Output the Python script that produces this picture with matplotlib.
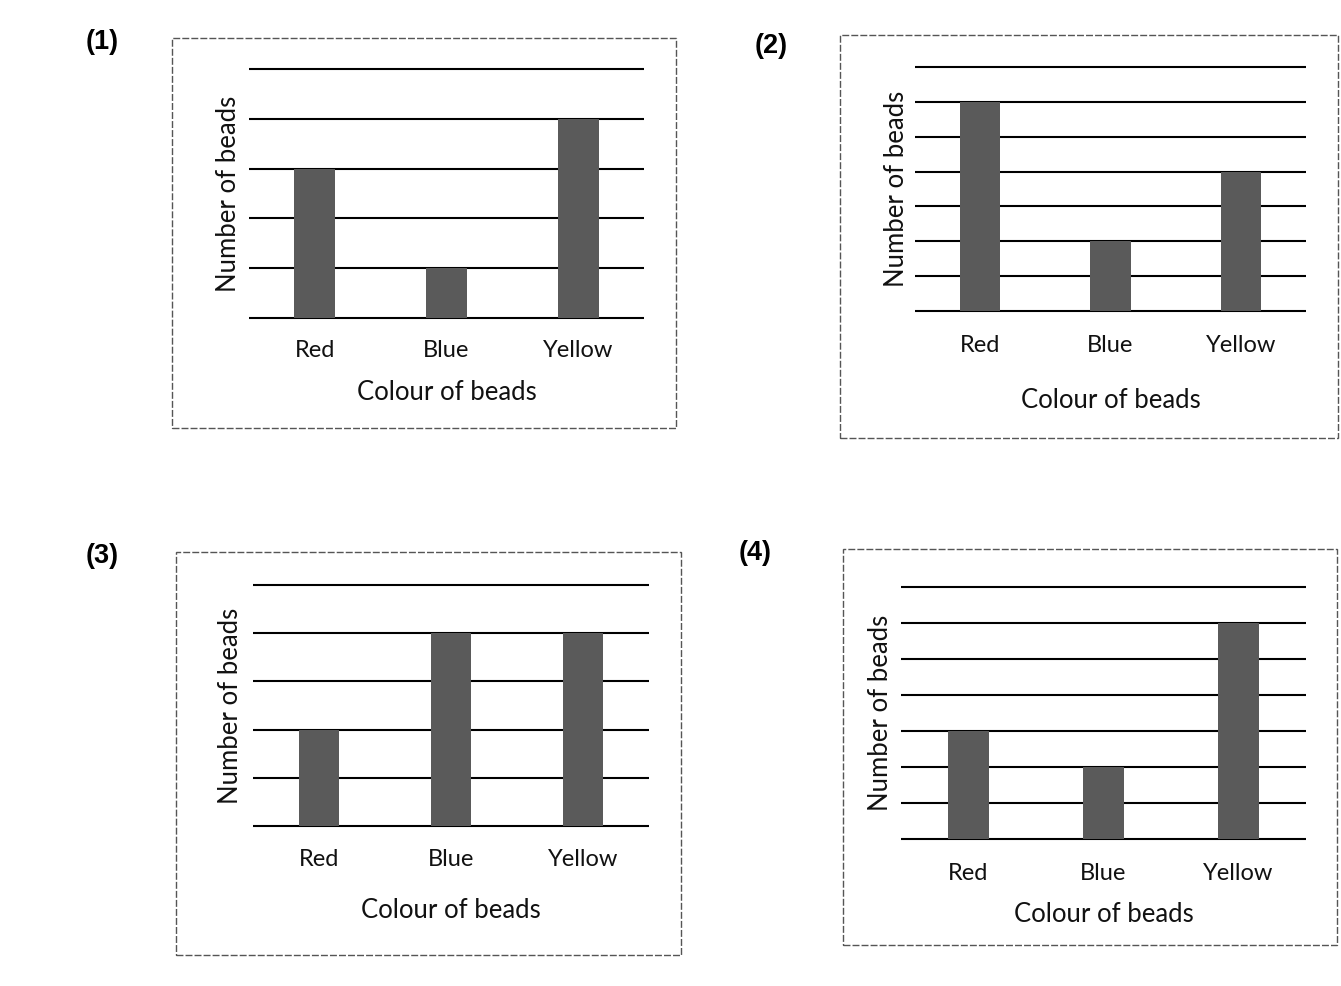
import matplotlib
matplotlib.use("Agg")
import matplotlib.pyplot as plt
from matplotlib.patches import Rectangle

categories = ["Red", "Blue", "Yellow"]
panel_labels = ["(1)", "(2)", "(3)", "(4)"]
values_1 = [3, 1, 4]
values_2 = [6, 2, 4]
values_3 = [2, 4, 4]
values_4 = [3, 2, 6]
ymax_list = [5, 7, 5, 7]
x_title = "Colour of beads"
y_title = "Number of beads"

W, H = 1341, 986
fig = plt.figure(figsize=(W / 100, H / 100), dpi=100)
fig.patch.set_facecolor("white")

layouts = [
    dict(ax=(249, 644, 69, 318), frame=(172, 676, 38, 428), lab=(102, 42), tick_y=350, xl_y=392, yl_x=228),
    dict(ax=(915, 1306, 67, 311), frame=(840, 1338, 35, 438), lab=(771, 46), tick_y=344, xl_y=400, yl_x=896),
    dict(ax=(253, 649, 585, 826), frame=(176, 681, 552, 955), lab=(102, 556), tick_y=858, xl_y=910, yl_x=231),
    dict(ax=(901, 1306, 587, 839), frame=(843, 1337, 549, 945), lab=(755, 553), tick_y=872, xl_y=914, yl_x=880),
]
all_values = [values_1, values_2, values_3, values_4]

font = "Lato"
bar_color = "#5a5a5a"

for i, (lay, vals, ymax) in enumerate(zip(layouts, all_values, ymax_list)):
    fx0, fx1, fy0, fy1 = lay["frame"]
    fig.patches.append(Rectangle((fx0 / W, 1 - fy1 / H), (fx1 - fx0) / W, (fy1 - fy0) / H,
                                 transform=fig.transFigure, fill=False, edgecolor="#555555",
                                 linewidth=1.0, linestyle=(0, (5, 1.5))))
    lx, ly = lay["lab"]
    fig.text(lx / W, 1 - ly / H, panel_labels[i], fontsize=19.5, fontweight="bold",
             family="Liberation Sans", ha="center", va="center", color="black")

    x0, x1, yt, yb = lay["ax"]
    ax = fig.add_axes([x0 / W, 1 - yb / H, (x1 - x0) / W, (yb - yt) / H])
    ax.set_xlim(-0.5, 2.5)
    ax.set_ylim(0, ymax)
    ax.hlines(range(0, ymax + 1), -0.5, 2.5, colors="black", linewidth=1.5, zorder=1, clip_on=False)
    ax.bar(range(len(categories)), vals, width=0.31, color=bar_color, zorder=3)
    for s in ax.spines.values():
        s.set_visible(False)
    ax.set_yticks([])
    ax.set_xticks(range(len(categories)))
    ax.set_xticklabels(categories, fontsize=17, family=font, color="#111111")
    ax.tick_params(axis="x", length=0)
    hpx = yb - yt
    for t in ax.get_xticklabels():
        t.set_verticalalignment("center")
    ax.tick_params(axis="x", pad=(lay["tick_y"] - yb + 1) * 0.72)
    ax.set_xlabel(x_title, fontsize=18.5, family=font, va="center", color="#111111")
    ax.xaxis.set_label_coords(0.5, -(lay["xl_y"] - yb + 1) / hpx)
    ax.set_ylabel(y_title, fontsize=18.5, family=font, va="center", color="#111111")
    ax.yaxis.set_label_coords(-(x0 - lay["yl_x"]) / (x1 - x0), 0.5)

fig.savefig("out.png", dpi=100, facecolor="white")
